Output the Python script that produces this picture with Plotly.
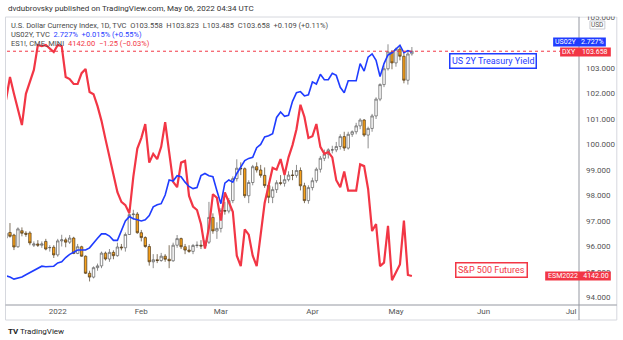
import numpy as np
import pandas as pd
import plotly.graph_objects as go

# ---- data -------------------------------------------------------------
# daily bars (Dec 24 closed)
dates = pd.bdate_range("2021-12-14", "2022-05-06")
dates = dates[dates != pd.Timestamp("2021-12-24")]

# U.S. Dollar Currency Index (TVC:DXY), daily OHLC
dxy_open = [96.33, 96.55, 96.45, 95.99, 96.62, 96.52, 96.53, 96.05, 96.10, 96.05, 96.20, 95.95, 95.97,
            95.67, 96.22, 96.26, 96.17, 96.33, 95.73, 95.99, 95.62, 94.95, 94.80, 95.17, 95.24, 95.74, 95.51,
            95.77, 95.64, 95.98, 95.95, 96.47, 97.25, 97.27,
            96.54, 96.35, 96.00, 95.40, 95.48, 95.45, 95.62, 95.50, 95.44, 96.05, 96.31, 95.99, 95.86, 95.81,
            96.04, 96.05, 96.02, 96.17, 97.14, 96.61,
            96.71, 97.41, 97.39, 97.80, 98.66, 99.07, 99.05, 97.99, 98.51, 99.13, 99.00, 98.79, 98.39, 97.93,
            98.23, 98.50, 98.48, 98.62, 98.80, 98.79, 98.98, 98.38, 97.80,
            98.31, 98.58, 99.03, 99.46, 99.62, 99.79, 99.79, 99.92, 100.31, 99.86, 100.40, 100.50, 100.73,
            100.96, 100.37, 100.63, 101.12, 101.78, 102.35, 102.97, 103.63,
            103.20, 103.74, 103.46, 102.52, 103.558]
dxy_high = [96.58, 96.92, 96.50, 96.75, 96.75, 96.60, 96.60, 96.20, 96.25, 96.20, 96.30, 96.05, 96.05,
            96.30, 96.46, 96.35, 96.45, 96.38, 96.10, 96.03, 95.65, 95.05, 95.22, 95.33, 95.80, 95.80, 95.90,
            95.85, 96.15, 96.10, 96.55, 97.30, 97.44, 97.35,
            96.65, 96.40, 96.10, 95.70, 95.70, 95.75, 95.70, 96.05, 96.15, 96.45, 96.35, 96.10, 96.05, 96.10,
            96.20, 96.25, 96.25, 97.75, 97.30, 96.95,
            97.50, 97.75, 97.90, 98.75, 99.42, 99.30, 99.10, 98.60, 99.20, 99.30, 99.20, 99.10, 98.50, 98.35,
            98.60, 98.80, 98.80, 98.95, 99.00, 99.20, 99.10, 98.50,
            98.40, 98.70, 99.10, 99.55, 99.80, 99.85, 99.95, 100.10, 100.40, 100.50, 100.50, 100.55, 100.85,
            101.03, 101.00, 100.70, 101.20, 101.85, 102.40, 103.10, 103.93,
            103.70, 103.80, 103.90, 103.60, 103.70, 103.823]
dxy_low = [96.25, 96.35, 95.86, 95.95, 96.40, 96.38, 96.05, 95.98, 95.98, 95.95, 95.85, 95.80, 95.55,
           95.60, 96.00, 95.97, 96.10, 95.70, 95.70, 95.60, 94.92, 94.63, 94.75, 95.05, 95.15, 95.45, 95.40,
           95.50, 95.60, 95.85, 95.80, 96.45, 97.05, 96.50,
           96.20, 95.95, 95.25, 95.15, 95.35, 95.40, 95.40, 95.15, 95.40, 95.95, 95.90, 95.70, 95.75, 95.70,
           95.95, 95.90, 95.95, 96.10, 96.50, 96.30,
           96.55, 97.25, 97.30, 97.70, 98.55, 98.80, 97.90, 97.70, 98.40, 98.90, 98.70, 98.30, 97.70, 97.70,
           98.10, 98.40, 98.35, 98.55, 98.60, 98.70, 98.20, 97.70,
           97.68, 98.20, 98.50, 98.90, 99.35, 99.45, 99.65, 99.70, 99.80, 99.75, 99.80, 100.30, 100.40,
           100.60, 100.30, 99.85, 100.50, 101.00, 101.70, 102.25, 102.90,
           102.95, 103.05, 103.30, 102.40, 102.35, 103.485]
dxy_close = [96.52, 96.40, 95.98, 96.69, 96.52, 96.48, 96.14, 96.10, 96.05, 96.10, 95.90, 95.96, 95.67,
             96.22, 96.26, 96.17, 96.33, 95.73, 95.99, 95.62, 94.95, 94.80, 95.17, 95.24, 95.74, 95.51, 95.77,
             95.64, 95.98, 95.95, 96.47, 97.25, 97.27, 96.54,
             96.35, 96.00, 95.40, 95.48, 95.45, 95.62, 95.50, 95.44, 96.05, 96.31, 95.99, 95.86, 95.81, 96.04,
             96.05, 96.02, 96.17, 97.14, 96.61, 96.71,
             97.41, 97.39, 97.80, 98.66, 99.07, 99.05, 97.99, 98.51, 99.13, 99.00, 98.79, 98.39, 97.93, 98.23,
             98.50, 98.48, 98.62, 98.80, 98.79, 98.98, 98.38, 97.80, 98.31,
             98.58, 99.03, 99.46, 99.62, 99.79, 99.79, 99.92, 100.31, 99.86, 100.40, 100.50, 100.73, 100.96,
             100.37, 100.63, 101.12, 101.78, 102.35, 102.97, 103.63, 103.20,
             103.74, 103.46, 102.52, 103.55, 103.658]

# US 2Y Treasury yield (TVC:US02Y), daily close, %
us02y = [0.65, 0.64, 0.62, 0.63, 0.64, 0.66, 0.68, 0.70, 0.72, 0.74, 0.735, 0.735, 0.74,
         0.77, 0.78, 0.82, 0.85, 0.87, 0.89, 0.89, 0.89, 0.91, 0.96, 1.00, 1.04, 1.04, 1.02,
         0.98, 0.98, 1.07, 1.16, 1.20, 1.18, 1.17,
         1.16, 1.17, 1.21, 1.29, 1.31, 1.32, 1.40, 1.54, 1.53, 1.58, 1.57, 1.52, 1.48, 1.46,
         1.47, 1.58, 1.60, 1.58, 1.57, 1.44,
         1.32, 1.51, 1.54, 1.52, 1.60, 1.66, 1.72, 1.74, 1.75, 1.84, 1.87, 1.94, 1.95, 1.97,
         2.12, 2.17, 2.13, 2.14, 2.27, 2.35, 2.36, 2.32, 2.33,
         2.45, 2.43, 2.52, 2.47, 2.47, 2.53, 2.51, 2.40, 2.35, 2.46, 2.46, 2.46, 2.62,
         2.55, 2.68, 2.71, 2.65, 2.50, 2.62, 2.70, 2.72,
         2.76, 2.79, 2.72, 2.74, 2.727]

# E-mini S&P 500 futures (CME_MINI:ES1!), daily close
es = [4643, 4709, 4661, 4612, 4572, 4661, 4695, 4729, 4800, 4797, 4800, 4789, 4780,
      4800, 4797, 4709, 4703, 4689, 4689, 4720, 4732, 4666, 4660, 4626, 4584, 4532, 4481,
      4427, 4381, 4353, 4344, 4321, 4425, 4505,
      4535, 4575, 4465, 4490, 4475, 4510, 4580, 4495, 4410, 4395, 4465, 4470, 4370, 4340,
      4330, 4290, 4220, 4280, 4375, 4365,
      4300, 4380, 4355, 4325, 4200, 4170, 4275, 4260, 4200, 4170, 4260, 4350, 4400, 4450,
      4445, 4475, 4430, 4480, 4515, 4560, 4630, 4595, 4535,
      4540, 4575, 4510, 4490, 4495, 4480, 4415, 4395, 4440, 4385, 4385, 4385, 4460,
      4455, 4390, 4270, 4290, 4170, 4180, 4285, 4130,
      4155, 4175, 4300, 4145, 4142.00]

month_labels = ["2022", "Feb", "Mar", "Apr", "May", "Jun", "Jul"]
price_ticks = [94, 95, 96, 97, 98, 99, 100, 101, 102, 103, 105]

# ---- geometry helpers -------------------------------------------------
W, H = 623, 340
L, R, T, B = 7, 582, 17, 305          # plot area in pixels


def px(xp):
    return (xp - L) / (R - L)


def py(yp):
    return (B - yp) / (B - T)


# bar index axis (weekends skipped); future bars extend the axis for labels
x = np.arange(len(dates))
future = pd.bdate_range("2022-05-09", "2022-07-08")
all_days = dates.append(future)
month_pos = []
for k in range(1, len(all_days)):
    if all_days[k].month != all_days[k - 1].month:
        month_pos.append(k)
tick_pos = month_pos[:len(month_labels)]
jan3 = tick_pos[0]

RED = "#f23645"
BLUE = "#1f3cff"
ORANGE = "#f7a01a"

fig = go.Figure()

fig.add_trace(go.Candlestick(
    x=x, open=dxy_open, high=dxy_high, low=dxy_low, close=dxy_close,
    increasing=dict(line=dict(color="#5c5c5c", width=0.7), fillcolor="#ffffff"),
    decreasing=dict(line=dict(color="#4d3a1c", width=0.7), fillcolor=ORANGE),
    whiskerwidth=0, yaxis="y", hoverinfo="skip", showlegend=False,
))
fig.add_trace(go.Scatter(
    x=x, y=us02y, mode="lines", line=dict(color=BLUE, width=1.6),
    yaxis="y3", hoverinfo="skip", showlegend=False,
))
fig.add_trace(go.Scatter(
    x=x, y=es, mode="lines", line=dict(color=RED, width=2.2),
    yaxis="y2", hoverinfo="skip", showlegend=False,
))

FONT = "Roboto, Liberation Sans, sans-serif"
GREY_TXT = "#4a4a4a"

fig.update_layout(
    width=W, height=H,
    margin=dict(l=L, r=W - R, t=T, b=H - B),
    paper_bgcolor="white", plot_bgcolor="white",
    font=dict(family=FONT, size=8, color=GREY_TXT),
    boxgap=0.12,
    xaxis=dict(
        range=[jan3 - 12.75, jan3 + 131],
        tickvals=tick_pos, ticktext=month_labels,
        showgrid=False, zeroline=False, showline=False, ticks="",
        tickfont=dict(size=8, color="#555555"), rangeslider=dict(visible=False),
    ),
    yaxis=dict(
        side="right", range=[93.706, 105.0],
        tickvals=price_ticks, tickformat=".3f",
        showgrid=False, zeroline=False, showline=False, ticks="",
        tickfont=dict(size=8, color="#555555"), ticklabelstandoff=6,
    ),
    yaxis2=dict(range=[4059.4, 4879.9], overlaying="y", visible=False),
    yaxis3=dict(range=[0.380, 3.052], overlaying="y", visible=False),
)

shapes = []
# outer frame, axis separators
shapes.append(dict(type="rect", xref="paper", yref="paper", x0=px(5.5), x1=px(620), y0=py(320), y1=py(17),
                   line=dict(color="#d6d8de", width=1), layer="below"))
# top strip above the price scale (cuts the highest scale label)
shapes.append(dict(type="rect", xref="paper", yref="paper", x0=px(583), x1=px(622), y0=py(16.5), y1=py(2),
                   line=dict(width=0), fillcolor="white", layer="above"))
shapes.append(dict(type="line", xref="paper", yref="paper", x0=px(582), x1=px(582), y0=py(320), y1=py(17),
                   line=dict(color="#9598a1", width=1), layer="above"))
shapes.append(dict(type="line", xref="paper", yref="paper", x0=px(5.5), x1=px(620), y0=py(305), y1=py(305),
                   line=dict(color="#9598a1", width=1), layer="above"))
# last-price line of the index
shapes.append(dict(type="line", xref="paper", yref="y", x0=0, x1=1, y0=dxy_close[-1], y1=dxy_close[-1],
                   line=dict(color=RED, width=1, dash="dot"), layer="above"))
# price-scale tags
for (x0, x1, yc, col) in [(556, 609, 42, BLUE), (563, 614, 52, RED), (548, 614, 276, RED)]:
    shapes.append(dict(type="rect", xref="paper", yref="paper", x0=px(x0), x1=px(x1),
                       y0=py(yc + 4.5), y1=py(yc - 4.5), line=dict(width=0), fillcolor=col, layer="above"))
# currency box
shapes.append(dict(type="rect", xref="paper", yref="paper", x0=px(593), x1=px(608), y0=py(29), y1=py(21),
                   line=dict(color="#c9ccd3", width=1), fillcolor="white", layer="above"))
fig.update_layout(shapes=shapes)

ann = []


def text(xp, yp, s, size=8, color=GREY_TXT, xanchor="left", **kw):
    ann.append(dict(xref="paper", yref="paper", x=px(xp), y=py(yp), text=s, showarrow=False,
                    xanchor=xanchor, yanchor="middle", font=dict(size=size, color=color, family=FONT),
                    borderpad=0, **kw))


NB = "\u00a0"
text(7, 8, "dvdubrovsky published on TradingView.com, May 06, 2022 04:34 UTC", size=8, color="#333333")
o, h, l, c = dxy_open[-1], dxy_high[-1], dxy_low[-1], dxy_close[-1]
text(10, 25, f"U.S. Dollar Currency Index, 1D, TVC{NB*2}O{o:.3f}{NB*2}H{h:.3f}{NB*2}L{l:.3f}{NB*2}C{c:.3f}"
             f"{NB*2}+0.109 (+0.11%)", size=7.5)
text(10, 34, f"US02Y, TVC{NB*2}<span style='color:{BLUE}'>{us02y[-1]:.3f}%{NB*2}+0.015% (+0.55%)</span>",
     size=7.5)
text(10, 43, f"ES1!, CME_MINI{NB*2}<span style='color:{RED}'>{es[-1]:.2f}{NB*2}\u22121.25 (\u22120.03%)</span>",
     size=7.5)

# price-scale tag texts
text(582.5, 42, f"US02Y{NB*3}{us02y[-1]:.3f}%", size=7, color="white", xanchor="center")
text(588.5, 52, f"DXY{NB*4}{dxy_close[-1]:.3f}", size=7, color="white", xanchor="center")
text(581, 276, f"ESM2022{NB*3}{es[-1]:.2f}", size=7, color="white", xanchor="center")
text(600.5, 25, "USD", size=6.5, color="#555555", xanchor="center")

# series captions
ann.append(dict(xref="paper", yref="paper", x=px(496), y=py(61.5), text="US 2Y Treasury Yield",
                showarrow=False, xanchor="center", yanchor="middle",
                font=dict(size=9, color=BLUE, family=FONT), bgcolor="white",
                bordercolor=BLUE, borderwidth=1.5, borderpad=1.5))
ann.append(dict(xref="paper", yref="paper", x=px(494), y=py(270), text="S&amp;P 500 Futures",
                showarrow=False, xanchor="center", yanchor="middle",
                font=dict(size=9, color=RED, family=FONT), bgcolor="white",
                bordercolor=RED, borderwidth=1.5, borderpad=1.5))

# footer logo
text(7, 331, "<b>TV</b> TradingView", size=8, color="#222222")

fig.update_layout(annotations=ann)
fig.write_html("out.html")
